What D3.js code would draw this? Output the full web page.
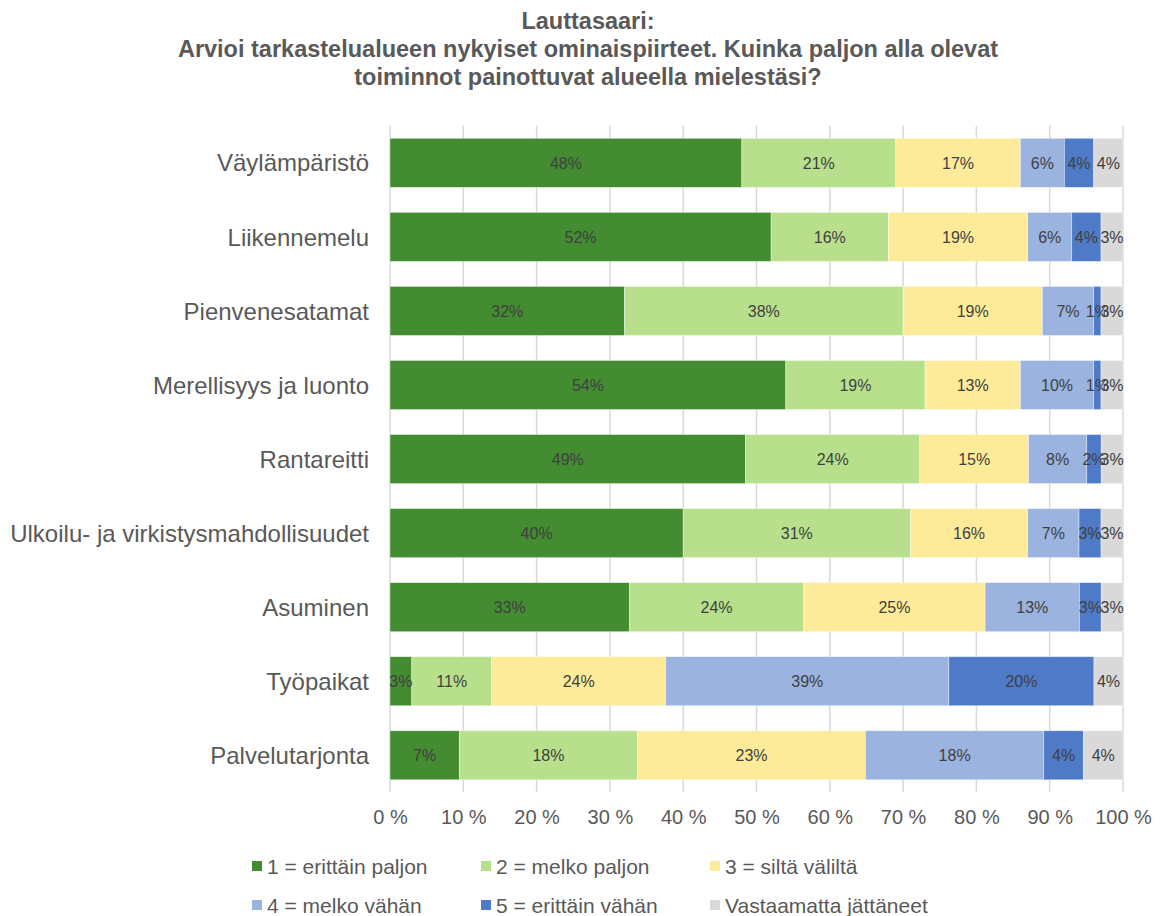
<!DOCTYPE html>
<html lang="fi">
<head>
  <meta charset="UTF-8">
  <title>Lauttasaari</title>
  <script src="https://d3js.org/d3.v7.min.js"></script>
  <style>
    body { margin: 0; background: #ffffff; font-family: Arial, "Liberation Sans", sans-serif; }
    svg { display: block; }
    .title { fill: #595959; font-size: 23.5px; font-weight: bold; }
    .cat { fill: #595959; font-size: 24px; }
    .tick text { fill: #595959; font-size: 20px; }
    .lbl { fill: #404040; font-size: 16px; }
    .leg { fill: #595959; font-size: 21px; }
  </style>
</head>
<body>
  <svg id="chart"></svg>

  <script>
    const width = 1168, height = 916;

    // data
    const categories = ["Väylämpäristö", "Liikennemelu", "Pienvenesatamat", "Merellisyys ja luonto",
      "Rantareitti", "Ulkoilu- ja virkistysmahdollisuudet", "Asuminen", "Työpaikat", "Palvelutarjonta"];
    const seriesNames = ["1 = erittäin paljon", "2 = melko paljon", "3 = siltä väliltä",
      "4 = melko vähän", "5 = erittäin vähän", "Vastaamatta jättäneet"];
    const erittainPaljon = [48, 52, 32, 54, 49, 40, 33, 3, 7];
    const melkoPaljon    = [21, 16, 38, 19, 24, 31, 24, 11, 18];
    const siltaValilta   = [17, 19, 19, 13, 15, 16, 25, 24, 23];
    const melkoVahan     = [6, 6, 7, 10, 8, 7, 13, 39, 18];
    const erittainVahan  = [4, 4, 1, 1, 2, 3, 3, 20, 4];
    const vastaamatta    = [4, 3, 3, 3, 3, 3, 3, 4, 4];
    const xTicks = [0, 0.1, 0.2, 0.3, 0.4, 0.5, 0.6, 0.7, 0.8, 0.9, 1];
    const colors = ["#438c31", "#b8e08c", "#feeb9a", "#9ab3df", "#4e7ac7", "#d9d9d9"];

    const seriesValues = [erittainPaljon, melkoPaljon, siltaValilta, melkoVahan, erittainVahan, vastaamatta];
    const rows = categories.map((c, i) => {
      const r = { cat: c };
      seriesNames.forEach((s, j) => r[s] = seriesValues[j][i]);
      return r;
    });

    // 100 % stacked, like the original
    const stacked = d3.stack().keys(seriesNames).offset(d3.stackOffsetExpand)(rows);

    const svg = d3.select("#chart").attr("width", width).attr("height", height);

    const x = d3.scaleLinear().domain([0, 1]).range([390, 1123]);
    const y = d3.scaleBand().domain(categories).range([125.8, 792.3])
      .paddingInner(0.338).paddingOuter(0.169);

    // title
    const title = svg.append("text").attr("class", "title").attr("text-anchor", "middle");
    ["Lauttasaari:", "Arvioi tarkastelualueen nykyiset ominaispiirteet. Kuinka paljon alla olevat",
      "toiminnot painottuvat alueella mielestäsi?"].forEach((t, i) => {
      title.append("tspan").attr("x", 588).attr("y", 29 + i * 28).text(t);
    });

    // gridlines
    svg.append("g").selectAll("line").data(xTicks).join("line")
      .attr("x1", d => x(d)).attr("x2", d => x(d))
      .attr("y1", 125.8).attr("y2", 792.3)
      .attr("stroke", "#d9d9d9").attr("stroke-width", 1.5);

    // x axis
    const xAxis = svg.append("g").attr("transform", "translate(0,804)")
      .call(d3.axisBottom(x).tickValues(xTicks).tickSize(0).tickPadding(6)
        .tickFormat(d => Math.round(d * 100) + " %"));
    xAxis.select(".domain").remove();

    // bars
    const layer = svg.append("g").selectAll("g").data(stacked).join("g")
      .attr("fill", (d, i) => colors[i]);

    layer.selectAll("rect").data(d => d).join("rect")
      .attr("x", d => x(d[0]))
      .attr("width", d => x(d[1]) - x(d[0]))
      .attr("y", d => y(d.data.cat))
      .attr("height", y.bandwidth())
      .attr("stroke", "#ffffff").attr("stroke-opacity", 0.5).attr("stroke-width", 0.75);

    // data labels
    stacked.forEach(s => {
      svg.append("g").selectAll("text").data(s).join("text")
        .attr("class", "lbl")
        .attr("text-anchor", "middle")
        .attr("x", d => (x(d[0]) + x(d[1])) / 2)
        .attr("y", d => y(d.data.cat) + y.bandwidth() / 2)
        .attr("dy", "0.36em")
        .text(d => d.data[s.key] + "%");
    });

    // category labels
    svg.append("g").selectAll("text").data(categories).join("text")
      .attr("class", "cat")
      .attr("text-anchor", "end")
      .attr("x", 369)
      .attr("y", d => y(d) + y.bandwidth() / 2)
      .attr("dy", "0.36em")
      .text(d => d);

    // legend
    const legX = [252, 481, 710], legY = [866, 905];
    const leg = svg.append("g").selectAll("g").data(seriesNames).join("g")
      .attr("transform", (d, i) => `translate(${legX[i % 3]},${legY[Math.floor(i / 3)]})`);
    leg.append("rect").attr("x", 0).attr("y", -5).attr("width", 10).attr("height", 10)
      .attr("fill", (d, i) => colors[i]);
    leg.append("text").attr("class", "leg").attr("x", 15).attr("dy", "0.36em").text(d => d);
  </script>
</body>
</html>
